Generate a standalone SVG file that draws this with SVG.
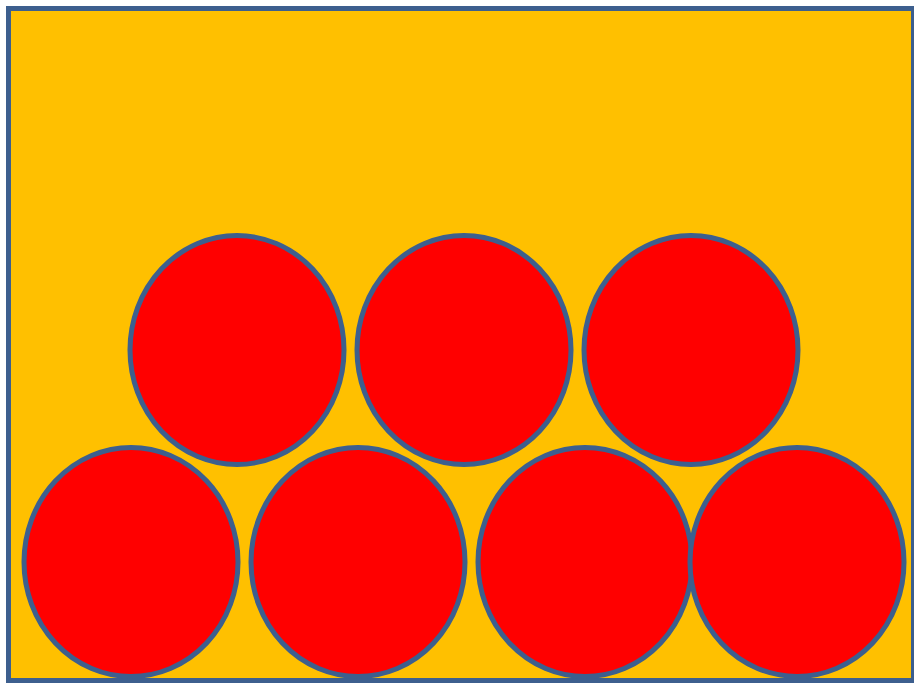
<svg xmlns="http://www.w3.org/2000/svg" width="914" height="684" viewBox="0 0 914 684">
<style>
.c{fill:#FF0000;stroke:#3D5F8E;stroke-width:5}
</style>
<rect width="914" height="684" fill="#FFFFFF"/>
<g id="frame"><rect x="8.5" y="8.5" width="905" height="672" fill="#FFC000" stroke="#3D5F8E" stroke-width="5"/></g>
<g id="c1"><ellipse class="c" cx="237" cy="350" rx="107" ry="114.5"/></g>
<g id="c2"><ellipse class="c" cx="464" cy="350" rx="107" ry="114.5"/></g>
<g id="c3"><ellipse class="c" cx="691" cy="350" rx="107" ry="114.5"/></g>
<g id="c4"><ellipse class="c" cx="131" cy="562" rx="107" ry="114.5"/></g>
<g id="c5"><ellipse class="c" cx="358" cy="562" rx="107" ry="114.5"/></g>
<g id="c6"><ellipse class="c" cx="585" cy="562" rx="107" ry="114.5"/></g>
<g id="c7"><ellipse class="c" cx="797" cy="562" rx="107" ry="114.5"/></g>
</svg>
